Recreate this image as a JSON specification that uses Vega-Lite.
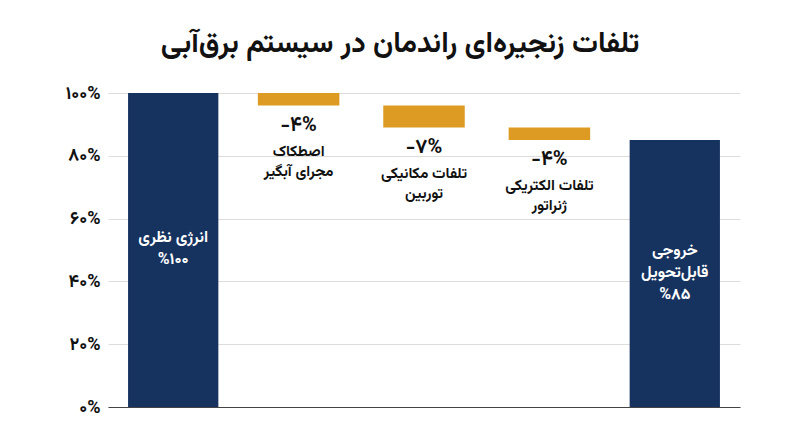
{
  "$schema": "https://vega.github.io/schema/vega-lite/v6.json",
  "autosize": {"type": "none"},
  "width": 632,
  "height": 314,
  "padding": {"left": 108, "top": 93, "right": 60, "bottom": 40},
  "background": "white",
  "title": {
    "text": "تلفات زنجیره‌ای راندمان در سیستم برق‌آبی",
    "fontSize": 29,
    "fontWeight": "bold",
    "color": "#111111",
    "anchor": "middle",
    "dx": -24,
    "offset": 26
  },
  "data": {
    "values": [
      {"step": "1", "kind": "total", "start": 0, "end": 100, "pct": "%۱۰۰", "name": "", "inside": "انرژی نظری\n%۱۰۰"},
      {"step": "2", "kind": "loss", "start": 100, "end": 96, "pct": "-۴%", "name": "اصطکاک\nمجرای آبگیر", "inside": ""},
      {"step": "3", "kind": "loss", "start": 96, "end": 89, "pct": "-۷%", "name": "تلفات مکانیکی\nتوربین", "inside": ""},
      {"step": "4", "kind": "loss", "start": 89, "end": 85, "pct": "-۴%", "name": "تلفات الکتریکی\nژنراتور", "inside": ""},
      {"step": "5", "kind": "total", "start": 0, "end": 85, "pct": "%۸۵", "name": "", "inside": "خروجی\nقابل‌تحویل\n%۸۵"}
    ]
  },
  "encoding": {
    "x": {
      "field": "step",
      "type": "nominal",
      "scale": {"domain": ["1", "2", "3", "4", "5"], "paddingInner": 0, "paddingOuter": 0.02},
      "axis": {"labels": false, "ticks": false, "title": null, "domainColor": "#444444", "domainWidth": 1.2}
    }
  },
  "layer": [
    {
      "transform": [{"filter": "datum.kind == 'total'"}],
      "mark": {"type": "bar", "width": {"band": 0.72}, "color": "#16325f"},
      "encoding": {
        "y": {
          "field": "start",
          "type": "quantitative",
          "scale": {"domain": [0, 100]},
          "axis": {
            "values": [0, 20, 40, 60, 80, 100],
            "title": null,
            "domain": false,
            "ticks": false,
            "labelPadding": 8,
            "labelFontSize": 18,
            "labelFontWeight": "bold",
            "labelColor": "#111111",
            "gridColor": "#dddddd",
            "labelExpr": "replace(replace(replace(replace(replace(replace(datum.label,regexp('0','g'),'۰'),regexp('1','g'),'۱'),regexp('2','g'),'۲'),regexp('4','g'),'۴'),regexp('6','g'),'۶'),regexp('8','g'),'۸') + '%'"
          }
        },
        "y2": {"field": "end"}
      }
    },
    {
      "transform": [{"filter": "datum.kind == 'loss'"}],
      "mark": {"type": "bar", "width": {"band": 0.65}, "color": "#dd9b23"},
      "encoding": {
        "y": {"field": "start", "type": "quantitative"},
        "y2": {"field": "end"}
      }
    },
    {
      "transform": [{"filter": "datum.kind == 'loss'"}],
      "mark": {"type": "text", "baseline": "middle", "dy": 19, "fontSize": 20, "fontWeight": "bold", "color": "#111111"},
      "encoding": {
        "y": {"field": "end", "type": "quantitative"},
        "text": {"field": "pct"}
      }
    },
    {
      "transform": [{"filter": "datum.kind == 'loss'"}],
      "mark": {"type": "text", "baseline": "top", "dy": 38, "fontSize": 15, "fontWeight": "bold", "lineHeight": 20, "lineBreak": "\n", "color": "#111111"},
      "encoding": {
        "y": {"field": "end", "type": "quantitative"},
        "text": {"field": "name"}
      }
    },
    {
      "transform": [
        {"filter": "datum.step == '1'"},
        {"fold": ["start", "end"], "as": ["edge", "v"]},
        {"aggregate": [{"op": "mean", "field": "v", "as": "mid"}], "groupby": ["step", "inside"]}
      ],
      "mark": {"type": "text", "baseline": "middle", "dy": -13, "fontSize": 16, "fontWeight": "bold", "lineHeight": 22, "lineBreak": "\n", "color": "white"},
      "encoding": {
        "y": {"field": "mid", "type": "quantitative"},
        "text": {"field": "inside"}
      }
    },
    {
      "transform": [
        {"filter": "datum.step == '5'"},
        {"fold": ["start", "end"], "as": ["edge", "v"]},
        {"aggregate": [{"op": "mean", "field": "v", "as": "mid"}], "groupby": ["step", "inside"]}
      ],
      "mark": {"type": "text", "baseline": "middle", "dy": -24, "fontSize": 16, "fontWeight": "bold", "lineHeight": 22, "lineBreak": "\n", "color": "white"},
      "encoding": {
        "y": {"field": "mid", "type": "quantitative"},
        "text": {"field": "inside"}
      }
    }
  ],
  "config": {
    "view": {"stroke": null},
    "font": "Vazirmatn, Noto Sans Arabic, DejaVu Sans, sans-serif"
  }
}
